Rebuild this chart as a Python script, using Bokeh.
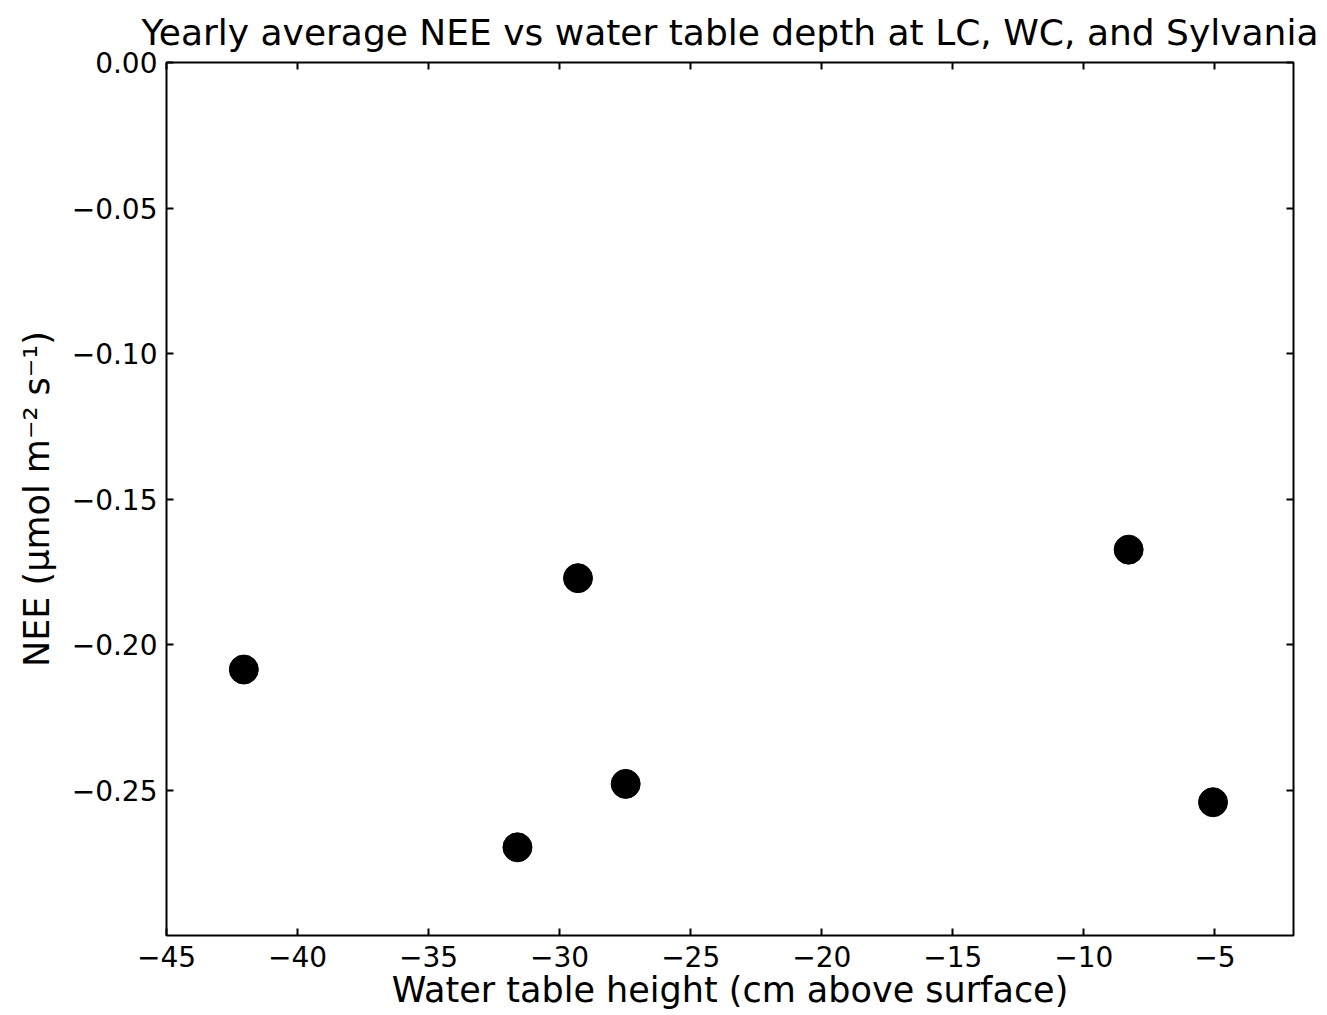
from bokeh.plotting import figure
from bokeh.models import LinearAxis, FixedTicker, Range1d, CustomLabelingPolicy
from bokeh.embed import file_html
from bokeh.resources import INLINE

# Data
water_table = [-42.05, -31.61, -29.30, -27.48, -8.29, -5.07]
nee = [-0.2086, -0.2697, -0.1772, -0.2479, -0.1674, -0.2542]

x_ticks = [-45, -40, -35, -30, -25, -20, -15, -10, -5]
x_tick_labels = ["\u221245", "\u221240", "\u221235", "\u221230", "\u221225",
                 "\u221220", "\u221215", "\u221210", "\u22125"]
y_ticks = [0.0, -0.05, -0.10, -0.15, -0.20, -0.25]
y_tick_labels = ["0.00", "\u22120.05", "\u22120.10", "\u22120.15", "\u22120.20", "\u22120.25"]

FONT = "DejaVu Sans"

p = figure(
    frame_width=1127, frame_height=873,
    x_range=Range1d(-45, -2), y_range=Range1d(-0.30, 0.0),
    output_backend="svg", toolbar_location=None,
    min_border_left=166, min_border_right=28,
    min_border_top=62, min_border_bottom=78,
    title="Yearly average NEE vs water table depth at LC, WC, and Sylvania",
)
p.title.text_font = FONT
p.title.text_font_size = "36px"
p.title.text_font_style = "normal"
p.title.align = "center"
p.title.offset = 4
p.title.standoff = 19
p.title.text_color = "black"

p.xgrid.visible = False
p.ygrid.visible = False
p.outline_line_color = "black"
p.outline_line_width = 2
p.background_fill_color = "white"
p.border_fill_color = "white"

no_labels = CustomLabelingPolicy(code="for (const i of indices) { indices.unset(i) } return indices")

def style_axis(ax, labels=True):
    ax.axis_line_color = None
    ax.major_tick_in = 7
    ax.major_tick_out = 0
    ax.major_tick_line_width = 2
    ax.major_tick_line_color = "black"
    ax.minor_tick_line_color = None
    ax.major_label_text_font = FONT
    ax.major_label_text_color = "black"
    ax.axis_label_text_font = FONT
    ax.axis_label_text_font_style = "normal"
    ax.axis_label_text_color = "black"
    if labels:
        ax.major_label_text_font_size = "28px"
    else:
        ax.major_label_text_font_size = "0px"
        ax.major_label_policy = no_labels
        ax.major_label_standoff = 0

# bottom axis
xa = p.xaxis[0]
xa.ticker = FixedTicker(ticks=x_ticks)
xa.major_label_overrides = {t: l for t, l in zip(x_ticks, x_tick_labels)}
xa.axis_label = "Water table height (cm above surface)"
xa.axis_label_text_font_size = "35px"
xa.major_label_standoff = 10
xa.axis_label_standoff = 0
style_axis(xa)

# left axis
ya = p.yaxis[0]
ya.ticker = FixedTicker(ticks=y_ticks)
ya.major_label_overrides = {t: l for t, l in zip(y_ticks, y_tick_labels)}
ya.axis_label = "NEE (\u03bcmol m\u207b\u00b2 s\u207b\u00b9)"
ya.axis_label_text_font_size = "35px"
ya.major_label_standoff = 9
ya.axis_label_standoff = 12
style_axis(ya)

# mirrored tick axes on top and right
top = LinearAxis(ticker=FixedTicker(ticks=x_ticks))
style_axis(top, labels=False)
p.add_layout(top, "above")
right = LinearAxis(ticker=FixedTicker(ticks=y_ticks))
style_axis(right, labels=False)
p.add_layout(right, "right")

p.scatter(water_table, nee, size=29, color="black", marker="circle")

open("out.html", "w").write(file_html(p, INLINE))
